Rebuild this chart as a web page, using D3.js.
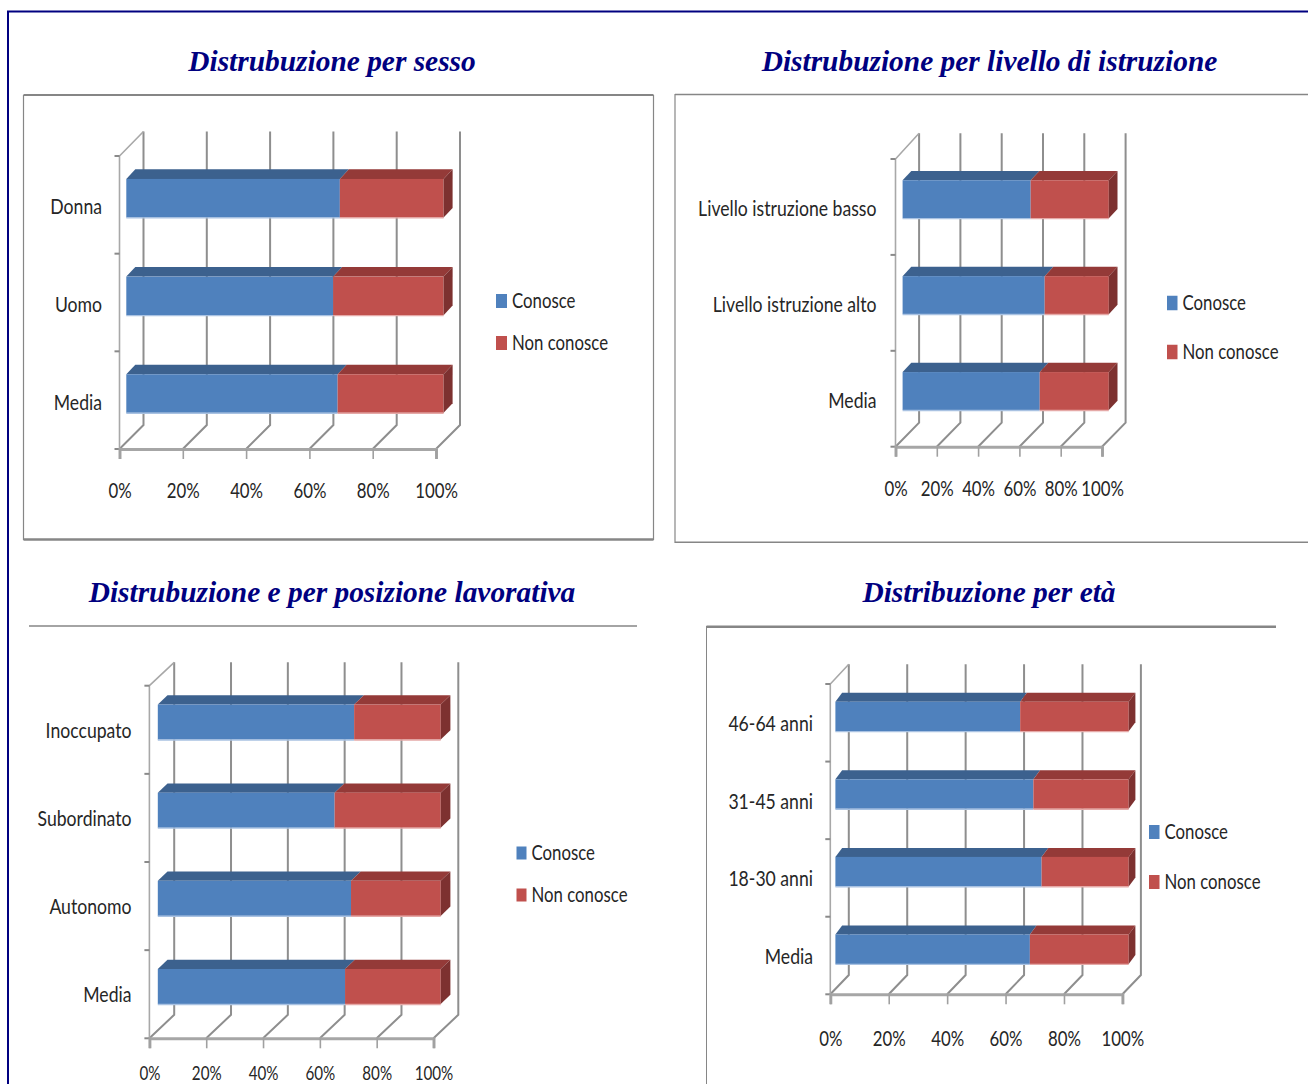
<!DOCTYPE html>
<html lang="it">
<head>
<meta charset="utf-8">
<title>Distribuzione</title>
<script src="https://cdn.jsdelivr.net/npm/d3@7/dist/d3.min.js"></script>
<style>
  html, body { margin: 0; padding: 0; background: #fff; overflow: hidden; }
  svg { display: block; }
  .cat, .tick text, .leg { font-family: Lato, "Liberation Sans", sans-serif; font-size: 21px; fill: #262626; }
  .title { font-family: "Liberation Serif", serif; font-weight: bold; font-style: italic; font-size: 29.4px; fill: #000080; text-anchor: middle; }
</style>
</head>
<body>
<script>
// Answers per group, as percentages
const seriesNames = ["Conosce", "Non conosce"];
const tickValues = [0, 20, 40, 60, 80, 100];

const titleSesso = "Distrubuzione per sesso";
const catSesso = ["Donna", "Uomo", "Media"];
const conosceSesso = [67.3, 65.2, 66.6];
const nonConosceSesso = [32.7, 34.8, 33.4];

const titleIstruzione = "Distrubuzione per livello di istruzione";
const catIstruzione = ["Livello istruzione basso", "Livello istruzione alto", "Media"];
const conosceIstruzione = [62.1, 68.9, 66.5];
const nonConosceIstruzione = [37.9, 31.1, 33.5];

const titleLavoro = "Distrubuzione e per posizione lavorativa";
const catLavoro = ["Inoccupato", "Subordinato", "Autonomo", "Media"];
const conosceLavoro = [69.4, 62.5, 68.3, 66.2];
const nonConosceLavoro = [30.6, 37.5, 31.7, 33.8];

const titleEta = "Distribuzione per età";
const catEta = ["46-64 anni", "31-45 anni", "18-30 anni", "Media"];
const conosceEta = [63, 67.5, 70.3, 66.3];
const nonConosceEta = [37, 32.5, 29.7, 33.7];

const fill = {
  "Conosce": { front: "#4f81bd", top: "#3c618e", side: "#2f4d72", edge: "#a9c2e2" },
  "Non conosce": { front: "#c0504d", top: "#943a38", side: "#7d3130", edge: "#e5a9a7" }
};
const GRID = "#8e8e8e", FRAME = "#868686", NAVY = "#000080";

// The labels are set in a tall, squeezed face
const SQUEEZE = 0.8, SQUEEZE_CAT = 0.84;

const svg = d3.select("body").append("svg").attr("width", 1308).attr("height", 1084);

// Page border
svg.append("path").attr("d", d3.line()([[8, 1084], [8, 11.5], [1308, 11.5]]))
  .attr("fill", "none").attr("stroke", NAVY).attr("stroke-width", 2);

// Each panel: frame edges, plot box, and the placement of the 3D extrusion
const panels = [
  { title: titleSesso, titleX: 332, titleY: 71, cats: catSesso, a: conosceSesso, b: nonConosceSesso,
    frame: [[[23.5, 95], [653.5, 95], 2], [[23.5, 95], [23.5, 540], 1.2], [[653.5, 95], [653.5, 540], 1.2], [[23.5, 539.5], [653.5, 539.5], 2.5]],
    x0: 119.5, x1: 436, top: 156, floor: 449, wallTop: 131.5, depthX: 24, depthY: 24,
    barL: 126.3, barR: 443.6, barDX: 9, barDY: 9.6, padding: 0.605, barShift: -6.6,
    catX: 102, catDY: 2, tickGap: 42, tickSize: 21,
    legSwatchX: 496, legSwatchW: 11, legSwatchH: 14, legTextX: 512, legY: [301, 343] },
  { title: titleIstruzione, titleX: 989.5, titleY: 71, cats: catIstruzione, a: conosceIstruzione, b: nonConosceIstruzione,
    frame: [[[675, 94.5], [1308, 94.5], 1.6], [[675, 94], [675, 543], 1.2], [[675, 542.3], [1308, 542.3], 1.4]],
    x0: 895.5, x1: 1102, top: 159, floor: 446.7, wallTop: 133.3, depthX: 23.6, depthY: 24,
    barL: 902.6, barR: 1108.8, barDX: 8.7, barDY: 9.3, padding: 0.604, barShift: -7.7,
    catX: 876.5, catDY: 2, tickGap: 42, tickSize: 21,
    legSwatchX: 1167, legSwatchW: 10.5, legSwatchH: 14.5, legTextX: 1182.5, legY: [303, 352] },
  { title: titleLavoro, titleX: 332, titleY: 602, cats: catLavoro, a: conosceLavoro, b: nonConosceLavoro,
    frame: [[[29, 626], [637, 626], 1.6]],
    x0: 149.4, x1: 433.5, top: 685.7, floor: 1038.3, wallTop: 662.3, depthX: 24.8, depthY: 23.5,
    barL: 157.8, barR: 440.7, barDX: 9.7, barDY: 9.3, padding: 0.602, barShift: -7.7,
    catX: 131.5, catDY: 0.5, tickGap: 35.5, tickSize: 19,
    legSwatchX: 516.5, legSwatchW: 10, legSwatchH: 13, legTextX: 531.5, legY: [853, 895] },
  { title: titleEta, titleX: 989, titleY: 602, cats: catEta, a: conosceEta, b: nonConosceEta,
    frame: [[[706.5, 626.7], [1276, 626.7], 2.6], [[706.5, 626], [706.5, 1084], 1]],
    x0: 830.3, x1: 1122.4, top: 684, floor: 994.3, wallTop: 664.3, depthX: 18.5, depthY: 19.3,
    barL: 835.4, barR: 1128.7, barDX: 6.7, barDY: 9, padding: 0.62, barShift: -6.3,
    catX: 813, catDY: 1.2, tickGap: 44, tickSize: 21,
    legSwatchX: 1149, legSwatchW: 10.5, legSwatchH: 14, legTextX: 1164.5, legY: [832, 882] }
];

panels.forEach(p => {
  const g = svg.append("g");
  g.append("text").attr("class", "title").attr("x", p.titleX).attr("y", p.titleY).text(p.title);

  p.frame.forEach(([s, e, w]) => g.append("line")
    .attr("x1", s[0]).attr("y1", s[1]).attr("x2", e[0]).attr("y2", e[1])
    .attr("stroke", FRAME).attr("stroke-width", w));

  const x = d3.scaleLinear().domain([0, 100]).range([p.x0, p.x1]);
  const xBar = d3.scaleLinear().domain([0, 100]).range([p.barL, p.barR]);
  const y = d3.scaleBand().domain(p.cats).range([p.top, p.floor])
    .paddingInner(p.padding).paddingOuter(p.padding / 2);

  const backFloor = p.floor - p.depthY;

  // Back wall gridlines and the floor diagonals running towards the front
  tickValues.forEach(t => {
    const front = x(t), back = x(t) + p.depthX;
    g.append("path")
      .attr("d", d3.line()([[back, p.wallTop], [back, backFloor], [front, p.floor]]))
      .attr("fill", "none").attr("stroke", GRID).attr("stroke-width", 2);
  });

  // Left side wall
  g.append("path")
    .attr("d", d3.line()([[p.x0 + p.depthX, p.wallTop], [p.x0, p.top], [p.x0, p.floor]]))
    .attr("fill", "none").attr("stroke", "#a8a8a8").attr("stroke-width", 1.6);

  // Category ticks sit on the band boundaries
  d3.range(p.cats.length + 1).forEach(i => {
    const ty = p.top + i * y.step();
    g.append("line").attr("x1", p.x0 - 5).attr("x2", p.x0).attr("y1", ty).attr("y2", ty)
      .attr("stroke", "#8a8a8a").attr("stroke-width", 2);
  });

  // Stacked bars with a top face and a right-hand end cap
  const rows = p.cats.map((c, i) => ({ cat: c, [seriesNames[0]]: p.a[i], [seriesNames[1]]: p.b[i] }));
  const stacked = d3.stack().keys(seriesNames)(rows);
  const poly = pts => d3.line()(pts) + "Z";

  stacked.forEach(layer => {
    const col = fill[layer.key];
    layer.forEach(seg => {
      const l = xBar(seg[0]), r = xBar(seg[1]);
      const t = y(seg.data.cat) + p.barShift, b = t + y.bandwidth();
      const dx = p.barDX, dy = p.barDY;
      g.append("path").attr("fill", col.top)
        .attr("d", poly([[l, t], [l + dx, t - dy], [r + dx, t - dy], [r, t]]));
      g.append("rect").attr("fill", col.front)
        .attr("x", l).attr("y", t).attr("width", r - l).attr("height", b - t);
      g.append("line").attr("stroke", col.edge).attr("stroke-width", 1.4)
        .attr("x1", l).attr("x2", r).attr("y1", b + 0.4).attr("y2", b + 0.4);
      if (layer.key === seriesNames[1]) {
        g.append("path").attr("fill", col.side)
          .attr("d", poly([[r, t], [r + dx, t - dy], [r + dx, b - dy], [r, b]]));
      }
    });
  });

  // Value axis along the front of the floor
  const axis = g.append("g").attr("transform", `translate(0,${p.floor})`)
    .call(d3.axisBottom(x).tickValues(tickValues).tickSize(10).tickFormat(d => d + "%"));
  axis.select(".domain").attr("stroke", "#a6a6a6").attr("stroke-width", 3);
  axis.selectAll(".tick line").attr("stroke", "#a0a0a0").attr("stroke-width", 1.6);
  axis.selectAll(".tick text").attr("y", 0).attr("dy", "0.35em")
    .style("font-size", p.tickSize + "px")
    .attr("transform", `translate(0,${p.tickGap}) scale(${SQUEEZE},1)`);

  // Category labels
  const catAxis = g.append("g").attr("transform", `translate(${p.catX},${p.catDY})`)
    .call(d3.axisLeft(y).tickSize(0).tickPadding(0));
  catAxis.select(".domain").remove();
  catAxis.selectAll(".tick text").attr("class", "cat").attr("x", 0).attr("dy", "0.35em")
    .attr("transform", `scale(${SQUEEZE_CAT},1)`);

  // Legend
  seriesNames.forEach((name, i) => {
    g.append("rect").attr("fill", fill[name].front)
      .attr("x", p.legSwatchX).attr("y", p.legY[i] - p.legSwatchH / 2)
      .attr("width", p.legSwatchW).attr("height", p.legSwatchH);
    g.append("text").attr("class", "leg").attr("dy", "0.35em")
      .attr("transform", `translate(${p.legTextX},${p.legY[i]}) scale(${SQUEEZE},1)`)
      .text(name);
  });
});
</script>
</body>
</html>
